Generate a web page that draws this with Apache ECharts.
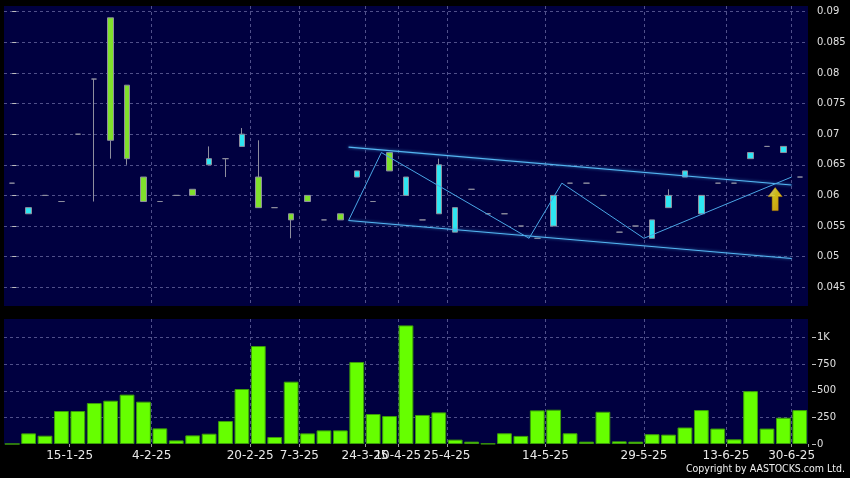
<!DOCTYPE html>
<html>
<head>
<meta charset="utf-8">
<script src="https://cdn.jsdelivr.net/npm/echarts@6/dist/echarts.min.js"></script>
<style>
html,body{margin:0;padding:0;background:#000;}
#chart{width:850px;height:478px;}
</style>
</head>
<body>
<div id="chart"></div>
<script>
// ---- data ----
const dates = ['6-1-25','8-1-25','10-1-25','13-1-25','15-1-25','16-1-25','20-1-25','22-1-25','27-1-25','4-2-25',
  '6-2-25','10-2-25','12-2-25','14-2-25','18-2-25','20-2-25','25-2-25','3-3-25','7-3-25','12-3-25',
  '17-3-25','20-3-25','24-3-25','2-4-25','10-4-25','16-4-25','23-4-25','25-4-25','30-4-25','2-5-25',
  '7-5-25','9-5-25','12-5-25','14-5-25','16-5-25','19-5-25','21-5-25','23-5-25','27-5-25','29-5-25',
  '3-6-25','5-6-25','9-6-25','11-6-25','13-6-25','19-6-25','23-6-25','26-6-25','30-6-25'];
// [open, close, low, high]
const ohlc = [
  [0.062,0.062,0.062,0.062],[0.057,0.058,0.057,0.058],[0.060,0.060,0.060,0.060],[0.059,0.059,0.059,0.059],
  [0.070,0.070,0.070,0.070],[0.079,0.079,0.059,0.079],[0.089,0.069,0.066,0.089],[0.078,0.066,0.065,0.078],
  [0.063,0.059,0.059,0.063],[0.059,0.059,0.059,0.059],[0.060,0.060,0.060,0.060],[0.061,0.060,0.060,0.061],
  [0.065,0.066,0.065,0.068],[0.066,0.066,0.063,0.066],[0.068,0.070,0.068,0.071],[0.063,0.058,0.058,0.069],
  [0.058,0.058,0.058,0.058],[0.057,0.056,0.053,0.057],[0.060,0.059,0.059,0.060],[0.056,0.056,0.056,0.056],
  [0.057,0.056,0.056,0.057],[0.063,0.064,0.063,0.064],[0.059,0.059,0.059,0.059],[0.067,0.064,0.064,0.067],
  [0.060,0.063,0.060,0.063],[0.056,0.056,0.056,0.056],[0.057,0.065,0.057,0.066],[0.054,0.058,0.054,0.058],
  [0.061,0.061,0.061,0.061],[0.057,0.057,0.057,0.057],[0.057,0.057,0.057,0.057],[0.055,0.055,0.055,0.055],
  [0.053,0.053,0.053,0.053],[0.055,0.060,0.055,0.060],[0.062,0.062,0.062,0.062],[0.062,0.062,0.062,0.062],
  [0.060,0.060,0.060,0.060],[0.054,0.054,0.054,0.054],[0.055,0.055,0.055,0.055],[0.053,0.056,0.053,0.056],
  [0.058,0.060,0.058,0.061],[0.063,0.064,0.063,0.064],[0.057,0.060,0.057,0.060],[0.062,0.062,0.062,0.062],
  [0.062,0.062,0.062,0.062],[0.066,0.067,0.066,0.067],[0.068,0.068,0.068,0.068],[0.067,0.068,0.067,0.068],
  [0.063,0.063,0.063,0.063]
];
const volumes = [0,100,78,310,310,385,407,464,398,147,34,81,97,216,517,921,66,586,100,128,
  128,771,282,263,1115,273,297,41,22,3,101,76,316,322,101,22,303,25,22,92,
  88,155,319,145,44,497,145,247,319];
const labelIdx = [4,9,15,18,22,24,27,33,39,44,48];
const priceTicks = ['0.045','0.05','0.055','0.06','0.065','0.07','0.075','0.08','0.085','0.09'];
const volTicks = ['0','250','500','750','1K'];
// trend annotation lines: [category position, price]
const channelUpper = [[20.5,0.0679],[47.5,0.0617]];
const channelLower = [[20.5,0.0559],[47.5,0.0497]];
const zigzag = [[20.5,0.0559],[22.5,0.0670],[31.5,0.0530],[33.5,0.0620],[38.5,0.0530],[47.5,0.0630]];
const arrowMark = [[46.5,0.0594]];

// ---- chart ----
const chart = echarts.init(document.getElementById('chart'), null, {renderer:'canvas'});
const gridLineColor = '#50508a';
const isLab = (i) => labelIdx.indexOf(i) >= 0;
const txtFont = 'DejaVu Sans';

const option = {
  backgroundColor: '#000000',
  animation: false,
  grid: [
    {left: 4, right: 42, top: 6, height: 300, show: true, backgroundColor: '#000040', borderWidth: 0},
    {left: 4, right: 42, top: 319, height: 125, show: true, backgroundColor: '#000040', borderWidth: 0}
  ],
  xAxis: [
    {type: 'category', gridIndex: 0, data: dates, boundaryGap: true,
     axisLine: {show: false}, axisTick: {show: false}, axisLabel: {show: false},
     splitLine: {show: true, showMinLine: false, showMaxLine: false, interval: (i) => isLab(i),
                 lineStyle: {color: gridLineColor, type: [3,3], width: 1}}},
    {type: 'category', gridIndex: 1, data: dates, boundaryGap: true,
     axisLine: {show: false},
     axisTick: {show: true, interval: (i) => isLab(i), length: 3, lineStyle: {color: '#9a9a9a'}},
     axisLabel: {show: true, interval: (i) => isLab(i), color: '#e8e8e8', fontFamily: txtFont, fontSize: 12,
                 margin: 6, padding: [0, 16.4, 0, 0]},
     splitLine: {show: true, showMinLine: false, showMaxLine: false, interval: (i) => isLab(i),
                 lineStyle: {color: gridLineColor, type: [3,3], width: 1}}},
    {type: 'value', gridIndex: 0, min: -0.5, max: 48.5, show: false, splitLine: {show: false}}
  ],
  yAxis: [
    {type: 'value', gridIndex: 0, position: 'right', min: 0.04194, max: 0.09093, splitNumber: 10, offset: 4,
     axisLine: {show: false},
     axisTick: {show: true, length: 4, lineStyle: {color: '#bdbdbd'}},
     axisLabel: {color: '#e0e0e0', fontFamily: txtFont, fontSize: 10, margin: 5, showMinLabel: false, showMaxLabel: false,
                 formatter: (v) => { const s = String(+v.toFixed(3)); return priceTicks.indexOf(s) >= 0 ? s : ''; }},
     splitLine: {show: true, showMinLine: false, showMaxLine: false, lineStyle: {color: gridLineColor, type: [3,3], width: 1}}},
    {type: 'value', gridIndex: 1, position: 'right', min: 0, max: 1175, interval: 250, offset: 4,
     axisLine: {show: false},
     axisTick: {show: true, length: 4, lineStyle: {color: '#bdbdbd'}},
     axisLabel: {color: '#e0e0e0', fontFamily: txtFont, fontSize: 10, margin: 5, showMaxLabel: false,
                 formatter: (v) => { const k = Math.round(v / 250); return (k * 250 === v && k < volTicks.length) ? volTicks[k] : ''; }},
     splitLine: {show: true, showMinLine: false, showMaxLine: false, lineStyle: {color: gridLineColor, type: [3,3], width: 1}}}
  ],
  series: [
    {type: 'candlestick', xAxisIndex: 0, yAxisIndex: 0, data: ohlc, barWidth: 6,
     itemStyle: {color: '#2ee6f2', color0: '#80e02c', borderColor: '#8e8e9e', borderColor0: '#8e8e9e',
                 borderColorDoji: '#8e8e9e', borderWidth: 1}},
    {type: 'bar', xAxisIndex: 1, yAxisIndex: 1, data: volumes, barWidth: '90%',
     itemStyle: {color: '#66ff00', borderColor: '#3c9c0a', borderWidth: 1}},
    {type: 'line', xAxisIndex: 2, yAxisIndex: 0, data: channelUpper, symbol: 'none', silent: true,
     lineStyle: {color: '#55b6f2', width: 1.2, shadowBlur: 3, shadowColor: '#3a8fd0'}},
    {type: 'line', xAxisIndex: 2, yAxisIndex: 0, data: channelLower, symbol: 'none', silent: true,
     lineStyle: {color: '#55b6f2', width: 1.2, shadowBlur: 3, shadowColor: '#3a8fd0'}},
    {type: 'line', xAxisIndex: 2, yAxisIndex: 0, data: zigzag, symbol: 'none', silent: true,
     lineStyle: {color: '#4aa6e6', width: 1}},
    {type: 'scatter', xAxisIndex: 2, yAxisIndex: 0, data: arrowMark, silent: true,
     symbol: 'path://M7,0 L14,9 L10,9 L10,23 L4,23 L4,9 L0,9 Z', symbolSize: [14, 23],
     itemStyle: {color: new echarts.graphic.LinearGradient(0, 0, 1, 1, [
        {offset: 0, color: '#fffbc0'}, {offset: 0.4, color: '#ffeb10'}, {offset: 1, color: '#ffb800'}]),
        borderColor: '#c89000', borderWidth: 0.6}}
  ],
  graphic: [
    {type: 'text', right: 5, top: 464, style: {text: 'Copyright by AASTOCKS.com Ltd.', fill: '#f0f0f0',
      font: '10.5px "DejaVu Sans Condensed", "DejaVu Sans", sans-serif'}}
  ]
};
chart.setOption(option);
</script>
</body>
</html>
